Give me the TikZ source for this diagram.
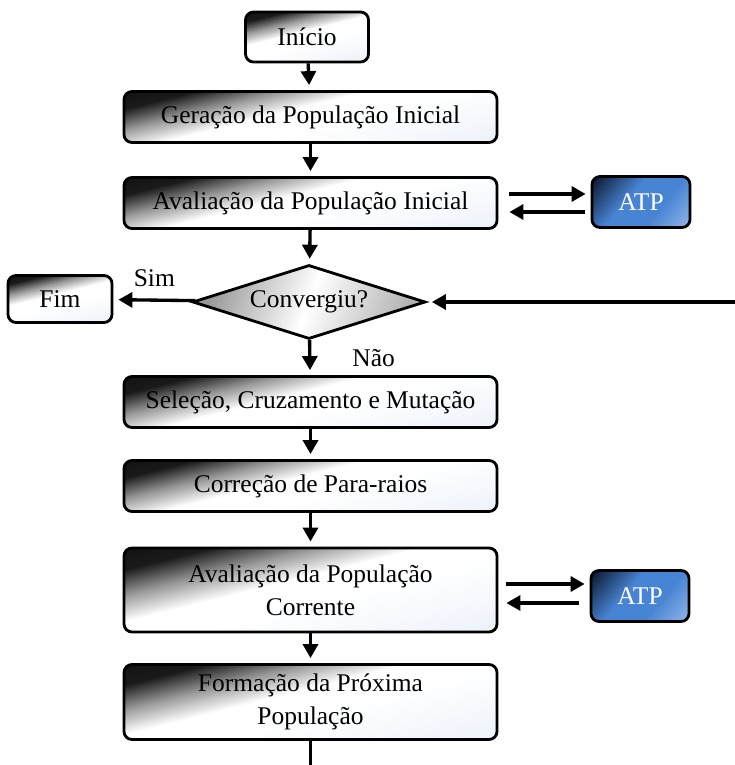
\documentclass[tikz,border=0pt]{standalone}
\usepackage{fontspec}
\setmainfont{Liberation Serif}
\usetikzlibrary{shapes.geometric,arrows.meta,positioning}

\definecolor{boxblue}{RGB}{222,231,246}
\definecolor{atpnavy}{RGB}{12,24,48}
\definecolor{atpblue}{RGB}{72,132,212}
\definecolor{atplight}{RGB}{196,214,242}

\pgfdeclarehorizontalshading{boxfade}{100bp}{color(0bp)=(black); color(27bp)=(black!90);
  color(36bp)=(black!40); color(45bp)=(white); color(55bp)=(white); color(100bp)=(boxblue)}
\pgfdeclarehorizontalshading{atpfade}{100bp}{color(0bp)=(black); color(16bp)=(atpnavy);
  color(42bp)=(atpblue); color(62bp)=(atpblue); color(100bp)=(atplight)}
\pgfdeclarehorizontalshading{diamfade}{100bp}{color(0bp)=(black!45); color(25bp)=(black!40);
  color(50bp)=(white); color(75bp)=(black!30); color(100bp)=(black!35)}

\begin{document}
\begin{tikzpicture}[
  font=\rmfamily\fontsize{14.5}{19}\selectfont,
  step box/.style={rectangle, rounded corners=0.16cm, draw=black, line width=1.6pt,
                   shading=boxfade, shading angle=-76, align=center,
                   minimum width=7.46cm, minimum height=1.02cm},
  atp box/.style={rectangle, rounded corners=0.16cm, draw=black, line width=1.6pt,
                  shading=atpfade, shading angle=-40, text=white,
                  minimum width=1.96cm, minimum height=1.02cm},
  test/.style={diamond, aspect=3.15, draw=black, line width=1.6pt, inner sep=1pt,
               shading=diamfade, shading angle=-20,
               minimum width=4.66cm, minimum height=1.48cm},
  arr/.style={-{Triangle[length=0.28cm, width=0.3cm]}, line width=1.9pt, shorten >=0.1cm},
  line/.style={line width=1.9pt}
]
\useasboundingbox (0,0) rectangle (14.7,15.3);

%% ---- MAIN COLUMN ----
\node[step box, minimum width=2.46cm, minimum height=1.0cm] (ini) at (6.14, 14.56) {Início};
\node[step box] (ger) at (6.21, 12.96) {Geração da População Inicial};
\node[step box] (avi) at (6.21, 11.24) {Avaliação da População Inicial};
\node[test]     (conv) at (6.18, 9.26) {Convergiu?};
\node[step box] (sel) at (6.21, 7.26) {Seleção, Cruzamento e Mutação};
\node[step box] (cor) at (6.21, 5.58) {Correção de Para-raios};
\node[step box, minimum height=1.68cm] (avc) at (6.21, 3.50)
     {Avaliação da População\\Corrente};
\node[step box, minimum height=1.50cm] (form) at (6.21, 1.26)
     {Formação da Próxima\\População};

%% ---- SIDE BOXES ----
\node[step box, minimum width=2.08cm, minimum height=0.94cm] (fim) at (1.20, 9.32) {Fim};
\node[atp box] (atpa) at (12.82, 11.26) {ATP};
\node[atp box] (atpb) at (12.80, 3.38) {ATP};

%% ---- FLOW ----
\draw[arr] (ini)  -- (ger);
\draw[arr] (ger)  -- (avi);
\draw[arr] (avi)  -- (conv);
\draw[arr] (conv) -- node[right=0.7cm] {Não} (sel);
\draw[arr] (sel)  -- (cor);
\draw[arr] (cor)  -- (avc);
\draw[arr] (avc)  -- (form);
\draw[arr] (conv) -- node[above=0.12cm] {Sim} (fim);

%% ---- ATP EXCHANGE ----
\draw[arr, shorten <=0.22cm] ([yshift=0.18cm]avi.east) -- ([yshift=0.18cm]avi.east -| atpa.west);
\draw[arr, shorten <=0.12cm, shorten >=0.22cm] ([yshift=-0.18cm]avi.east -| atpa.west) -- ([yshift=-0.18cm]avi.east);
\draw[arr, shorten <=0.16cm] ([yshift=0.12cm]avc.east) -- ([yshift=0.12cm]avc.east -| atpb.west);
\draw[arr, shorten <=0.22cm, shorten >=0.16cm] ([yshift=-0.26cm]avc.east -| atpb.west) -- ([yshift=-0.26cm]avc.east);

%% ---- LOOP BACK (cut at the edges) ----
\coordinate (loopin)  at (14.7, 9.26);
\coordinate (loopout) at (6.21, 0);
\draw[line] (form) -- (loopout);
\draw[arr]  (loopin) -- (conv.east);

\end{tikzpicture}
\end{document}
